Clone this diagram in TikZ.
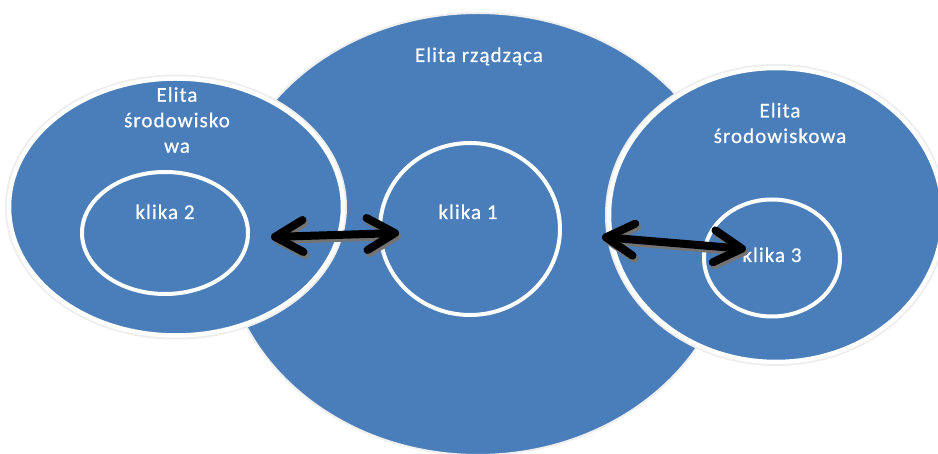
\documentclass[tikz,border=0pt]{standalone}
\usepackage{fontspec}
\setmainfont{Carlito}
\newfontfamily\lblfont[LetterSpace=5,FakeBold=0.6]{Carlito}
\usetikzlibrary{shapes.geometric, arrows.meta}
\definecolor{elitblue}{RGB}{74,126,187}
\begin{document}
\begin{tikzpicture}[x=1pt,y=-1pt,
  bigblob/.style={ellipse, fill=elitblue, inner sep=0pt, draw=black!6, line width=2pt},
  blob/.style={ellipse, fill=elitblue, inner sep=0pt, draw=white, line width=4.5pt,
    preaction={draw=black!7, line width=8pt}},
  klika/.style={ellipse, draw=white, line width=4pt, inner sep=0pt},
  lbl/.style={text=white, font=\lblfont\fontsize{21}{25.5}\selectfont, align=center, inner sep=0pt},
  dblarrow/.style={line width=8pt, line cap=round,
    {Straight Barb[length=28pt,width=32pt,round]}-{Straight Barb[length=28pt,width=32pt,round]}},
  arrowshade/.style={dblarrow, draw=black!55},
]
\useasboundingbox (0,0) rectangle (938,454);
% outer shapes
\node[bigblob, minimum width=510pt, minimum height=442pt] (rzadzaca) at (478,234) {};
\node[blob, minimum width=334pt, minimum height=257pt] (lewa) at (176,207) {};
\node[blob, minimum width=334pt, minimum height=294pt] (prawa) at (776,215) {};
% inner cliques
\node[klika, minimum width=166pt, minimum height=122pt] (k2) at (165,233) {};
\node[klika, minimum width=180pt, minimum height=172pt] (k1) at (470,229) {};
\node[klika, minimum width=136pt, minimum height=117pt] (k3) at (772,258) {};
% labels
\node[lbl, anchor=base] (t-rz) at (479,62) {Elita rządząca};
\node[lbl] (t-l) at (177,120) {Elita\\środowisko\\wa};
\node[lbl] (t-p) at (780,123) {Elita\\środowiskowa};
\node[lbl, anchor=base] (t-k2) at (165,219) {klika 2};
\node[lbl, anchor=base] (t-k1) at (468,219) {klika 1};
\node[lbl, anchor=base] (t-k3) at (772,262) {klika 3};
% arrow ends
\coordinate (a1) at (271,237);
\coordinate (a2) at (399,233);
\coordinate (b1) at (602,237);
\coordinate (b2) at (746,249);
\draw[arrowshade] ([shift={(2,3)}]a1) -- ([shift={(2,3)}]a2);
\draw[arrowshade] ([shift={(2,3)}]b1) -- ([shift={(2,3)}]b2);
\draw[dblarrow] (a1) -- (a2);
\draw[dblarrow] (b1) -- (b2);
\end{tikzpicture}
\end{document}
